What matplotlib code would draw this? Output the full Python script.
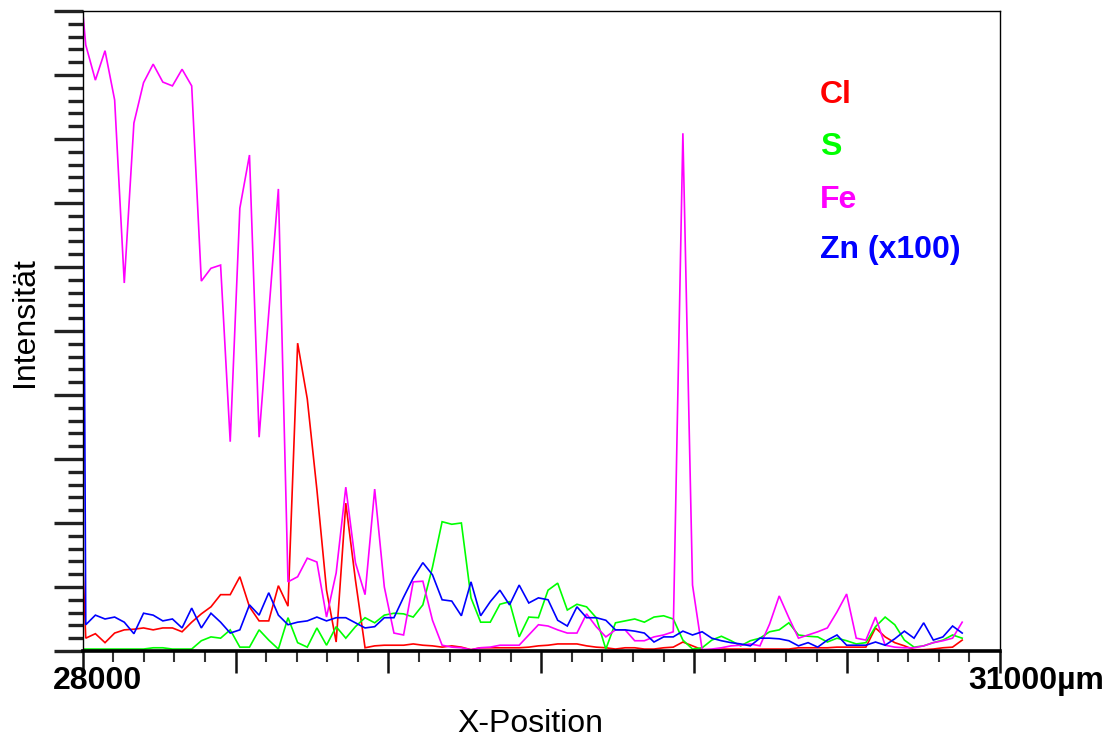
import matplotlib
matplotlib.use("Agg")
import matplotlib.pyplot as plt
import matplotlib.transforms as mtransforms
import numpy as np

plt.rcParams['font.family'] = ['Liberation Sans', 'DejaVu Sans']

# Messpositionen (µm): Startpunkt + Rasterschritt
x_pos = np.concatenate(([28000.0], 28010 + 31.5 * np.arange(92)))

# Intensitäten (willkürliche Einheiten, Zn x100)
cl = [142, 20, 27, 13, 28, 33, 34, 36, 33, 36, 36, 30, 45, 58, 69, 88, 88, 116, 69, 47, 47,
      102, 70, 481, 394, 252, 95, 14, 231, 111, 5, 8, 9, 9, 9, 11, 9, 8, 6, 8, 6,
      2, 5, 5, 5, 5, 5, 6, 8, 9, 11, 11, 11, 8, 6, 5, 3, 5, 5, 3, 3,
      5, 6, 14, 8, 2, 2, 3, 3, 3, 3, 3, 3, 3, 3, 5, 5, 5, 5, 6, 6,
      6, 6, 36, 22, 13, 8, 2, 2, 3, 5, 6, 17]
s = [3, 3, 3, 3, 3, 3, 3, 3, 5, 5, 3, 3, 3, 16, 22, 20, 33, 6, 6, 33, 17,
     3, 52, 13, 6, 36, 9, 38, 20, 38, 52, 44, 56, 59, 58, 53, 72, 131, 202, 198, 200,
     83, 45, 45, 73, 77, 22, 53, 52, 95, 106, 64, 73, 69, 52, 3, 44, 47, 50, 45, 53,
     55, 50, 17, 3, 5, 17, 23, 16, 8, 16, 20, 30, 33, 44, 25, 23, 22, 14, 20, 16,
     11, 13, 38, 53, 41, 17, 6, 8, 13, 17, 25, 20]
fe = [1000, 947, 892, 938, 861, 575, 825, 888, 917, 889, 883, 909, 883, 578, 598, 603, 327, 692, 775, 334, 528,
      722, 108, 116, 145, 139, 53, 122, 256, 138, 88, 253, 100, 28, 25, 108, 109, 48, 9, 6, 5,
      2, 5, 6, 9, 9, 9, 25, 41, 39, 33, 28, 28, 58, 38, 22, 33, 33, 16, 16, 22,
      25, 30, 809, 103, 2, 3, 5, 8, 9, 11, 8, 42, 86, 52, 20, 25, 30, 36, 61, 89,
      20, 17, 53, 9, 6, 5, 5, 8, 13, 16, 20, 45]
zn = [1020, 41, 56, 50, 53, 45, 27, 59, 56, 47, 50, 36, 67, 36, 59, 45, 28, 33, 72, 56, 91,
      56, 41, 45, 47, 53, 47, 52, 52, 44, 36, 38, 52, 52, 84, 114, 138, 119, 80, 78, 55,
      108, 55, 77, 95, 72, 103, 75, 83, 80, 48, 39, 69, 52, 52, 48, 33, 33, 31, 28, 14,
      22, 22, 31, 25, 30, 20, 16, 13, 11, 8, 20, 20, 19, 16, 8, 13, 6, 17, 25, 9,
      9, 9, 14, 9, 19, 31, 20, 44, 17, 22, 39, 28]

names = ['Cl', 'S', 'Fe', 'Zn (x100)']
colors = ['#ff0000', '#00ff00', '#ff00ff', '#0000ff']
series = [cl, s, fe, zn]

x_ticks = [28000, 28500, 29000, 29500, 30000, 30500, 31000]
x_labels = ['28000', '', '', '', '', '', '31000µm']

fig = plt.figure(figsize=(11.07, 7.40), dpi=100)
ax = fig.add_axes([0.0747, 0.1203, 0.8286, 0.8648])

for vals, col in zip(series, colors):
    ax.plot(x_pos, vals, color=col, lw=1.2, solid_joinstyle='miter', clip_on=True)

ax.set_xlim(28000, 31000)
ax.set_ylim(0, 1000)

# Achsen
ax.set_xticks(x_ticks)
ax.set_xticks(np.arange(28000, 31001, 100), minor=True)
ax.set_xticklabels(x_labels, fontsize=23, fontweight='bold')
ax.set_yticks(np.arange(0, 1001, 100))
ax.set_yticks(np.arange(0, 1001, 20), minor=True)
ax.set_yticklabels([])
ax.tick_params(axis='x', which='major', direction='out', length=16, width=1.8, color='#111', pad=-5)
ax.tick_params(axis='x', which='minor', direction='out', length=8, width=1.5, color='#333')
ax.tick_params(axis='y', which='major', direction='out', length=21, width=2.4, color='#222')
ax.tick_params(axis='y', which='minor', direction='out', length=11, width=2.4, color='#222')

# Beschriftungen leicht verschieben
offsets = {'28000': 15, '31000µm': 36}
for lab in ax.get_xticklabels():
    dx = offsets.get(lab.get_text(), 0)
    lab.set_transform(lab.get_transform() + mtransforms.ScaledTranslation(dx / 100, 0, fig.dpi_scale_trans))

ax.spines['bottom'].set_linewidth(2.6)
for side in ['top', 'right', 'left']:
    ax.spines[side].set_linewidth(1.0)

fig.text(530 / 1107, 1 / 740, 'X-Position', fontsize=23, ha='center', va='bottom')
fig.text(25 / 1107, 1 - 322 / 740, 'Intensität', fontsize=23, rotation=90, ha='center', va='center')

# Legende als farbiger Text
legend_y = [0.869, 0.7875, 0.705, 0.627]
for name, col, yy in zip(names, colors, legend_y):
    ax.text(0.804, yy, name, color=col, fontsize=23, fontweight='bold',
            transform=ax.transAxes, ha='left', va='center')

fig.savefig('out.png', dpi=100)
